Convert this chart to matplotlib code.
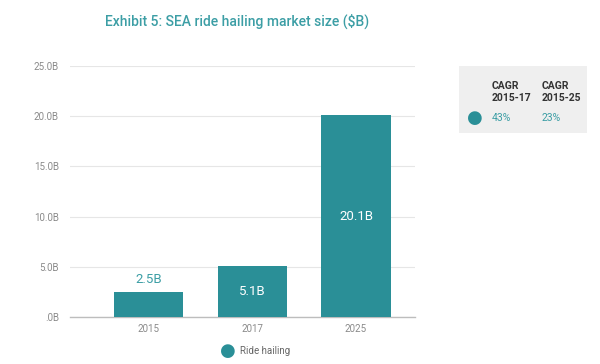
import matplotlib.pyplot as plt
from matplotlib.patches import Rectangle

plt.rcParams['font.family'] = ['Roboto', 'DejaVu Sans']

years = ['2015', '2017', '2025']
market = [2.5, 5.1, 20.1]
value_labels = ['2.5B', '5.1B', '20.1B']
yticks = [0, 5, 10, 15, 20, 25]
ytick_labels = ['.0B', '5.0B', '10.0B', '15.0B', '20.0B', '25.0B']
cagr_headers = ['CAGR\n2015-17', 'CAGR\n2015-25']
cagr_values = ['43%', '23%']

teal = '#2a8f97'
title_teal = '#3c9ea5'
grey = '#8a8a8a'

fig = plt.figure(figsize=(6, 3.64), dpi=100)
fig.patch.set_facecolor('white')
ax = fig.add_axes([70 / 600, 1 - 317 / 364, 345 / 600, 251 / 364])

x = range(len(years))
ax.bar(x, market, width=0.67, color=teal, zorder=3)
ax.set_xlim(-0.76, 2.57)
ax.set_ylim(0, 25)

# labels: small bar gets its label above, the others inside
for i, v in enumerate(market):
    if v < 4:
        ax.text(i, v + 0.6, value_labels[i], ha='center', va='bottom',
                color=title_teal, fontsize=9.5, zorder=4)
    else:
        ax.text(i, v / 2, value_labels[i], ha='center', va='center',
                color='white', fontsize=9.5, zorder=4)

ax.set_yticks(yticks)
ax.set_yticklabels(ytick_labels)
ax.set_xticks(list(x))
ax.set_xticklabels(years)
ax.tick_params(axis='both', length=0, labelsize=7, labelcolor=grey)
ax.tick_params(axis='y', pad=8)
ax.tick_params(axis='x', pad=5)
ax.grid(axis='y', color='#e6e6e6', linewidth=0.8, zorder=0)
for s in ['top', 'right', 'left']:
    ax.spines[s].set_visible(False)
ax.spines['bottom'].set_color('#bdbdbd')
ax.spines['bottom'].set_linewidth(1)

fig.text(237 / 600, 1 - 21 / 364, 'Exhibit 5: SEA ride hailing market size ($B)',
         ha='center', va='center', color=title_teal, fontsize=10,
         fontweight='medium')

# CAGR box on the right
fig.patches.append(Rectangle((459 / 600, 1 - 133 / 364), 128 / 600, 67 / 364,
                             transform=fig.transFigure, facecolor='#efefef',
                             edgecolor='none'))
for i, h in enumerate(cagr_headers):
    fig.text((492 + i * 50) / 600, 1 - 92 / 364, h, ha='left', va='center',
             fontsize=7.5, color='#333333', fontweight='bold', linespacing=1.2)
    fig.text((492 + i * 50) / 600, 1 - 118 / 364, cagr_values[i], ha='left',
             va='center', fontsize=7.5, color=title_teal)
fig.text(475 / 600, 1 - 118 / 364, '\u25cf', ha='center', va='center',
         fontsize=13, color=teal)

# bottom legend
fig.text(228 / 600, 1 - 351 / 364, '\u25cf', ha='center', va='center',
         fontsize=13, color=teal)
fig.text(240 / 600, 1 - 351 / 364, 'Ride hailing', ha='left', va='center',
         fontsize=7, color='#666666')

fig.savefig('out.png', dpi=100, facecolor='white')
